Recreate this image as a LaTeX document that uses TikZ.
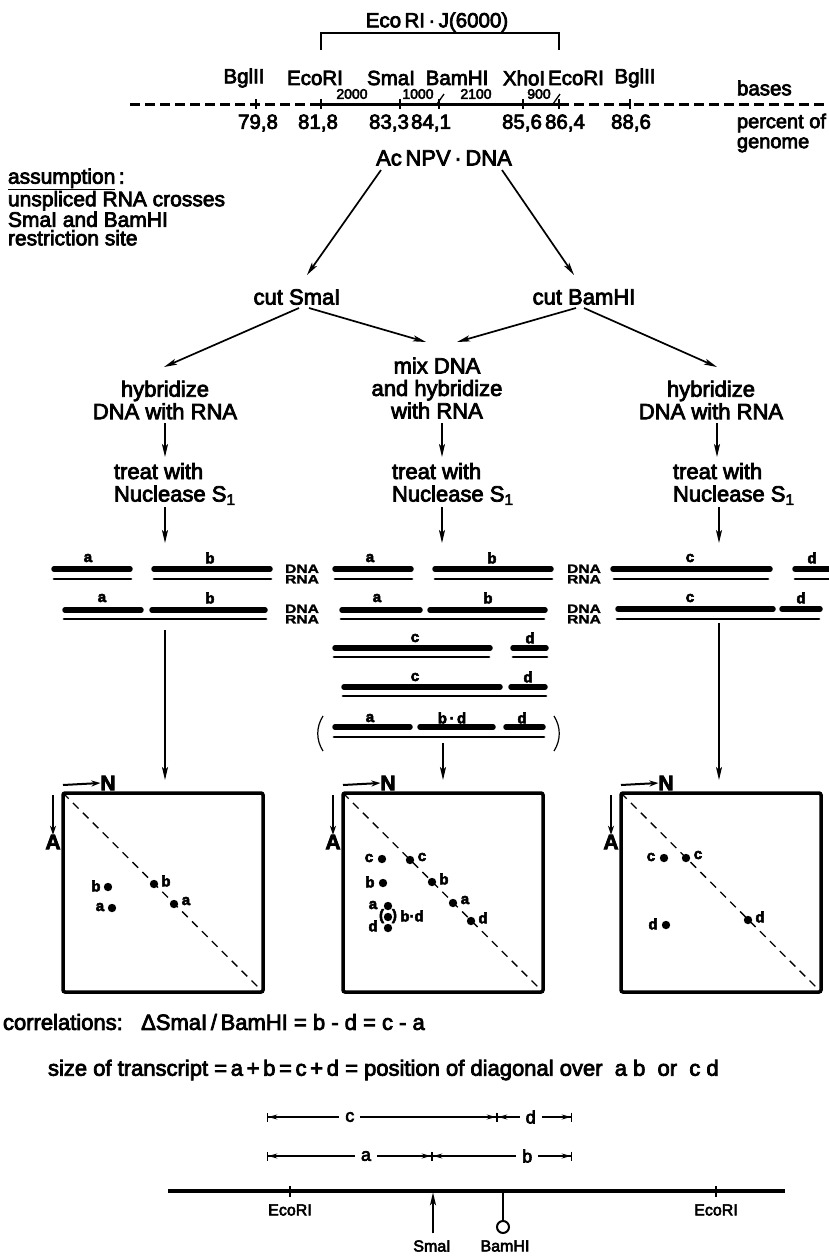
\documentclass[tikz,border=0pt]{standalone}
\usepackage{fontspec}
\setmainfont{Liberation Sans}[FakeBold=3.5]
\newfontfamily\squatfont{Liberation Sans}[FakeStretch=1.3, FakeBold=2]
\usetikzlibrary{arrows.meta,calc}
\begin{document}
\begin{tikzpicture}[x=1pt, y=-1pt,
  every node/.style={inner sep=0pt, outer sep=0pt},
  lbl/.style={font=\fontsize{20.5}{22}\selectfont},
  txt/.style={font=\fontsize{22}{22.5}\selectfont},
  sizelbl/.style={font=\fontsize{14}{16}\selectfont},
  flow/.style={font=\fontsize{22}{22.5}\selectfont, align=center},
  stepl/.style={font=\fontsize{22}{22.5}\selectfont, align=left, anchor=west},
  arr/.style={line width=1.7pt, -{Stealth[length=13pt, width=6pt, inset=3pt]}},
  dna/.style={line width=5.5pt, line cap=round},
  rna/.style={line width=2.8pt, line cap=round},
  seg/.style={font=\bfseries\fontsize{15}{15}\selectfont},
  hyb/.style={font=\squatfont\bfseries\fontsize{12}{10.5}\selectfont, align=center},
  plot/.style={draw, line width=3.5pt, rounded corners=2pt, minimum width=200pt, minimum height=199pt},
  diag/.style={line width=1.3pt, dash pattern=on 8pt off 6pt},
  axl/.style={font=\bfseries\fontsize{21}{21}\selectfont},
  axarr/.style={line width=2pt, -{Stealth[length=9pt, width=6pt]}},
  mapsolid/.style={line width=3pt},
  mapdash/.style={line width=3pt, dash pattern=on 10pt off 5pt},
  tick/.style={line width=1.3pt},
  dim/.style={line width=1.3pt, {Bar[width=9pt]Stealth[length=9pt,width=5pt]}-{Stealth[length=9pt,width=5pt]Bar[width=9pt]}},
  dimlbl/.style={font=\fontsize{18}{18}\selectfont, fill=white, inner xsep=6pt, inner ysep=1pt},
  sitelbl/.style={font=\fontsize{16}{16}\selectfont},
]
\useasboundingbox (0,0) rectangle (829,1259);

% ---------- restriction map of the EcoRI-J fragment ----------
\node[lbl] (ecoj) at (437,22) {Eco\,RI\,·\,J(6000)};
\coordinate (brL) at (321,50);
\coordinate (brR) at (559,50);
\draw[line width=1.3pt] (brL) -- (321,33) -- (559,33) -- (brR);

\node[lbl] (e1) at (244,78) {BglII};
\node[lbl] (e2) at (315,78) {EcoRI};
\node[lbl] (e3) at (391,78) {SmaI};
\node[lbl] (e4) at (457,78) {BamHI};
\node[lbl] (e5) at (524,78) {XhoI};
\node[lbl] (e6) at (576,78) {EcoRI};
\node[lbl] (e7) at (635,78) {BglII};

\draw[mapdash] (130,104) -- (321,104);
\draw[mapsolid] (321,104) -- (559,104);
\draw[mapdash] (559,104) -- (829,104);
\foreach \x in {256,321,400,439,523,559,630}
  \draw[tick] (\x,99) -- (\x,109);
\draw[tick] (437,104) -- (444,94);
\draw[tick] (553,104) -- (560,94);

\node[sizelbl] (s1) at (352,94) {2000};
\node[sizelbl] (s2) at (418,94) {1000};
\node[sizelbl] (s3) at (476,94) {2100};
\node[sizelbl] (s4) at (539,94) {900};

\node[lbl] (p1) at (258,123) {79,8};
\node[lbl] (p2) at (318,123) {81,8};
\node[lbl] (p3) at (389,123) {83,3};
\node[lbl] (p4) at (431,123) {84,1};
\node[lbl] (p5) at (522,123) {85,6};
\node[lbl] (p6) at (565,123) {86,4};
\node[lbl] (p7) at (631,123) {88,6};

\node[lbl, anchor=west] (bases) at (737,88) {bases};
\node[lbl, align=left, anchor=west, font=\fontsize{20}{20}\selectfont] (pct) at (737,133) {percent of\\genome};

% ---------- experimental scheme ----------
\node[txt] (acnpv) at (444,158) {Ac\,NPV\,·\,DNA};
\node[stepl, font=\fontsize{21}{18.5}\selectfont] (asm) at (8,207)
  {\underline{assumption}\,:\\unspliced RNA crosses\\SmaI and BamHI\\restriction site};

\node[txt] (cutS) at (297,297) {cut SmaI};
\node[txt] (cutB) at (584,297) {cut BamHI};
\draw[arr] ($(acnpv.center)+(-63,12)$) -- ($(cutS.center)+(10,-22)$);
\draw[arr] ($(acnpv.center)+(58,12)$) -- ($(cutB.center)+(-10,-22)$);

\node[flow] (hybL) at (165,400) {hybridize\\DNA with RNA};
\node[flow] (mix) at (437,388) {mix DNA\\and hybridize\\with RNA};
\node[flow] (hybR) at (711,400) {hybridize\\DNA with RNA};
\draw[arr] ($(cutS.center)+(2,11)$) -- ($(hybL.center)+(-1,-33)$);
\draw[arr] ($(cutS.center)+(12,11)$) -- ($(mix.center)+(-11,-46)$);
\draw[arr] ($(cutB.center)+(-8,11)$) -- ($(mix.center)+(20,-46)$);
\draw[arr] ($(cutB.center)+(0,11)$) -- ($(hybR.center)+(6,-33)$);

\node[stepl] (trL) at (114,484) {treat with\\Nuclease S\textsubscript{1}};
\node[stepl] (trM) at (392,484) {treat with\\Nuclease S\textsubscript{1}};
\node[stepl] (trR) at (673,484) {treat with\\Nuclease S\textsubscript{1}};
\draw[arr] ($(hybL.center)+(0,23)$) -- ($(trL.west)+(51,-27)$);
\draw[arr] ($(mix.center)+(5,35)$) -- ($(trM.west)+(50,-27)$);
\draw[arr] ($(hybR.center)+(6,23)$) -- ($(trR.west)+(44,-27)$);

\coordinate (inL) at (165,543);
\coordinate (inM) at (442,543);
\coordinate (inR) at (719,543);
\draw[arr] ($(trL.west)+(51,23)$) -- (inL);
\draw[arr] ($(trM.west)+(50,23)$) -- (inM);
\draw[arr] ($(trR.west)+(46,23)$) -- (inR);

% ---------- hybrids after S1 digestion ----------
% left column (SmaI)
\node[seg] at (88,558) {a};  \node[seg] at (210,558) {b};
\draw[dna] (54,569) -- (130,569);  \draw[dna] (154,569) -- (270,569);
\draw[rna] (54,579) -- (131,579);  \draw[rna] (154,579) -- (271,579);
\node[seg] at (102,598) {a};  \node[seg] at (210,598) {b};
\draw[dna] (65,610) -- (141,610);  \draw[dna] (152,610) -- (265,610);
\draw[rna] (64,619) -- (266,619);
\node[hyb] (hl1) at (302,574) {DNA\\RNA};
\node[hyb] (hl2) at (302,614) {DNA\\RNA};

% middle column (mixed)
\node[seg] at (370,558) {a};  \node[seg] at (492,558) {b};
\draw[dna] (335,569) -- (411,569);  \draw[dna] (435,569) -- (551,569);
\draw[rna] (335,579) -- (412,579);  \draw[rna] (435,579) -- (552,579);
\node[seg] at (377,598) {a};  \node[seg] at (488,598) {b};
\draw[dna] (342,610) -- (420,610);  \draw[dna] (430,610) -- (545,610);
\draw[rna] (341,619) -- (544,619);
\node[seg] at (415,638) {c};  \node[seg] at (530,638) {d};
\draw[dna] (335,648) -- (490,648);  \draw[dna] (513,648) -- (546,648);
\draw[rna] (334,657) -- (489,657);  \draw[rna] (513,657) -- (547,657);
\node[seg] at (415,677) {c};  \node[seg] at (528,677) {d};
\draw[dna] (344,687) -- (500,687);  \draw[dna] (511,687) -- (545,687);
\draw[rna] (343,696) -- (546,696);
\node[seg] at (370,718) {a};  \node[seg] at (452,718) {b\,·\,d};  \node[seg] at (522,718) {d};
\draw[dna] (335,727) -- (410,727);  \draw[dna] (420,727) -- (493,727);  \draw[dna] (506,727) -- (543,727);
\draw[rna] (334,737) -- (544,737);
\draw[line width=1.2pt] (323,716) .. controls (316,727) and (316,740) .. (323,751);
\draw[line width=1.2pt] (554,716) .. controls (561,727) and (561,740) .. (554,751);
\node[hyb] (hm1) at (584,574) {DNA\\RNA};
\node[hyb] (hm2) at (584,614) {DNA\\RNA};

% right column (BamHI)
\node[seg] at (690,558) {c};  \node[seg] at (812,558) {d};
\draw[dna] (613,569) -- (770,569);  \draw[dna] (795,569) -- (835,569);
\draw[rna] (614,579) -- (768,579);  \draw[rna] (795,579) -- (835,579);
\node[seg] at (690,598) {c};  \node[seg] at (801,598) {d};
\draw[dna] (618,609) -- (773,609);  \draw[dna] (782,609) -- (820,609);
\draw[rna] (617,619) -- (819,619);

% ---------- two-dimensional gels ----------
\node[plot] (boxL) at (163,892.5) {};
\node[plot] (boxM) at (443,892.5) {};
\node[plot] (boxR) at (721,892.5) {};

\coordinate (outL) at (165,630);
\coordinate (outM) at (443,743);
\coordinate (outR) at (719,623);
\draw[arr] (outL) -- ($(boxL.north)+(2,-13)$);
\draw[arr] (outM) -- ($(boxM.north)+(0,-13)$);
\draw[arr] (outR) -- ($(boxR.north)+(-2,-13)$);

\foreach \b in {boxL,boxM,boxR}{
  \draw[diag] (\b.north west) -- (\b.south east);
  \node[axl] (\b-N) at ($(\b.north west)+(45,-10)$) {N};
  \draw[axarr] ($(\b.north west)+(0,-8)$) -- (\b-N.west);
  \node[axl] (\b-A) at ($(\b.north west)+(-10,49)$) {A};
  \draw[axarr] ($(\b.north west)+(-10,2)$) -- (\b-A.north);
}

% spots, SmaI gel
\fill ($(boxL.north west)+(45,94)$) circle[radius=4.2];
\node[seg] at ($(boxL.north west)+(33,93)$) {b};
\fill ($(boxL.north west)+(49,115)$) circle[radius=4.2];
\node[seg] at ($(boxL.north west)+(37,114)$) {a};
\fill ($(boxL.north west)+(91,91)$) circle[radius=4.2];
\node[seg] at ($(boxL.north west)+(103,88)$) {b};
\fill ($(boxL.north west)+(111,111)$) circle[radius=4.2];
\node[seg] at ($(boxL.north west)+(123,108)$) {a};

% spots, mixed gel
\fill ($(boxM.north west)+(39,66)$) circle[radius=4.2];
\node[seg] at ($(boxM.north west)+(26,65)$) {c};
\fill ($(boxM.north west)+(67,67)$) circle[radius=4.2];
\node[seg] at ($(boxM.north west)+(79,64)$) {c};
\fill ($(boxM.north west)+(40,90)$) circle[radius=4.2];
\node[seg] at ($(boxM.north west)+(27,89)$) {b};
\fill ($(boxM.north west)+(89,89)$) circle[radius=4.2];
\node[seg] at ($(boxM.north west)+(101,86)$) {b};
\fill ($(boxM.north west)+(110,110)$) circle[radius=4.2];
\node[seg] at ($(boxM.north west)+(122,107)$) {a};
\fill ($(boxM.north west)+(128,128)$) circle[radius=4.2];
\node[seg] at ($(boxM.north west)+(140,125)$) {d};
\fill ($(boxM.north west)+(45,113)$) circle[radius=4.2];
\node[seg] at ($(boxM.north west)+(30,112)$) {a};
\fill ($(boxM.north west)+(45,124)$) circle[radius=4.2];
\node[seg] at ($(boxM.north west)+(45,123)$) {(\hspace{8pt})};
\node[seg] at ($(boxM.north west)+(69,123)$) {b·d};
\fill ($(boxM.north west)+(45,135)$) circle[radius=4.2];
\node[seg] at ($(boxM.north west)+(30,133)$) {d};

% spots, BamHI gel
\fill ($(boxR.north west)+(43,65)$) circle[radius=4.2];
\node[seg] at ($(boxR.north west)+(30,64)$) {c};
\fill ($(boxR.north west)+(65,65)$) circle[radius=4.2];
\node[seg] at ($(boxR.north west)+(77,62)$) {c};
\fill ($(boxR.north west)+(45,132)$) circle[radius=4.2];
\node[seg] at ($(boxR.north west)+(32,131)$) {d};
\fill ($(boxR.north west)+(127,127)$) circle[radius=4.2];
\node[seg] at ($(boxR.north west)+(139,124)$) {d};

% ---------- correlations ----------
\node[txt, anchor=west] (corr) at (3,1022) {correlations:\ \ \ ΔSmaI\,/\,BamHI = b - d = c - a};
\node[txt, anchor=west] (size) at (48,1070) {size of transcript =\,a\,+\,b\,=\,c\,+\,d = position of diagonal over \ a b \ or \ c d};

% ---------- map of the transcribed region ----------
\coordinate (c0) at (267,1117);
\coordinate (c1) at (497,1117);
\coordinate (c2) at (572,1117);
\coordinate (a0) at (267,1156);
\coordinate (a1) at (432,1156);
\coordinate (a2) at (572,1156);
\draw[dim] (c0) -- node[dimlbl, pos=0.36] {c} (c1);
\draw[dim] (c1) -- node[dimlbl, pos=0.45] {d} (c2);
\draw[dim] (a0) -- node[dimlbl, pos=0.6] {a} (a1);
\draw[dim] (a1) -- node[dimlbl, pos=0.68] {b} (a2);

\coordinate (gl) at (168,1191);
\coordinate (gr) at (785,1191);
\draw[line width=4pt] (gl) -- (gr);
\draw[tick] (290,1186) -- (290,1197);
\draw[tick] (716,1186) -- (716,1197);
\node[sitelbl] (ecoL) at (290,1210) {EcoRI};
\node[sitelbl] (ecoR) at (716,1210) {EcoRI};

\node[sitelbl] (smaB) at (432,1246) {SmaI};
\node[sitelbl] (bamB) at (505,1246) {BamHI};
\draw[arr, line width=1.8pt] ($(smaB.north)+(1,-7)$) -- ($(smaB.north)+(1,-48)$);
\node[draw, circle, line width=2pt, minimum size=12pt] (site) at (503,1227) {};
\draw[line width=1.8pt] (site.north) -- (503,1191);
\end{tikzpicture}
\end{document}
